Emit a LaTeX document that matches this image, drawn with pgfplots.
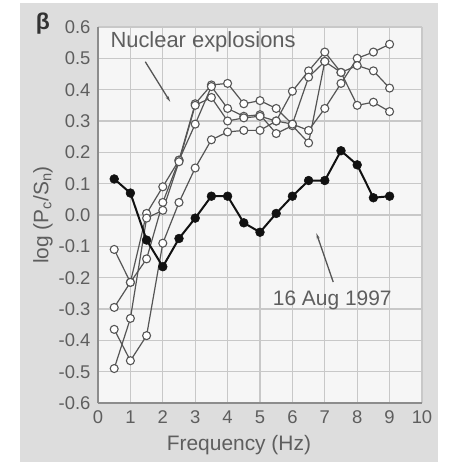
\documentclass[border=0pt]{standalone}
\usepackage{pgfplots}
\pgfplotsset{compat=1.18}
\usepackage{fontspec}
\setmainfont{Liberation Sans}
\usetikzlibrary{arrows.meta}
\definecolor{panel}{HTML}{DDDDDD}
\definecolor{plotbg}{HTML}{F6F6F6}
\definecolor{gridc}{HTML}{C8C8C8}
\definecolor{axisc}{HTML}{8C8C8C}
\definecolor{txt}{HTML}{5E5E5E}
\definecolor{linec}{HTML}{555555}
\definecolor{filledc}{HTML}{111111}
\begin{document}
\begin{tikzpicture}
\useasboundingbox (0,0) rectangle (459bp,462bp);
\fill[panel] (20bp,0) rectangle (438bp,459bp);
\begin{axis}[
  at={(98bp,59bp)}, anchor=south west,
  scale only axis, width=324bp, height=376bp,
  xmin=0, xmax=10, ymin=-0.6, ymax=0.6,
  xtick={0,1,2,3,4,5,6,7,8,9,10},
  xticklabels={0,1,2,3,4,5,6,7,8,9,10},
  ytick={-0.6,-0.5,-0.4,-0.3,-0.2,-0.1,0,0.1,0.2,0.3,0.4,0.5,0.6},
  yticklabels={-0.6,-0.5,-0.4,-0.3,-0.2,-0.1,0.0,0.1,0.2,0.3,0.4,0.5,0.6},
  axis lines=left,
  axis line style={-, draw=axisc, line width=2bp},
  major tick length=0pt,
  tick style={draw=none},
  grid=major,
  major grid style={draw=gridc, line width=1.1bp},
  axis background/.style={fill=plotbg},
  tick label style={font=\fontsize{18.5}{18.5}\selectfont, text=txt},
  yticklabel style={xshift=-4bp},
  xticklabel style={yshift=-4bp},
  xlabel={Frequency (Hz)},
  ylabel={log (P\textsubscript{c}/S\textsubscript{n})},
  every axis x label/.style={at={(axis description cs:0.435,-0.112)}, anchor=center, font=\fontsize{21}{21}\selectfont, text=txt},
  every axis y label/.style={at={(axis description cs:-0.17,0.5)}, anchor=center, rotate=90, font=\fontsize{21}{21}\selectfont, text=txt},
  clip=false,
  open/.style={draw=linec, line width=1.2bp, mark=*, mark size=4bp, mark options={fill=white, draw=linec, line width=1.1bp}},
]
\addplot[open] coordinates {(0.5,-0.11) (1.0,-0.215) (1.5,-0.14) (2.0,0.04) (2.5,0.175) (3.0,0.355) (3.5,0.415) (4.0,0.42) (4.5,0.355) (5.0,0.365) (5.5,0.34) (6.0,0.29) (6.5,0.27) (7.0,0.34) (7.5,0.42) (8.0,0.50) (8.5,0.52) (9.0,0.545)};
\addplot[open] coordinates {(0.5,-0.295) (1.0,-0.215) (1.5,0.005) (2.0,0.09) (2.5,0.175) (3.0,0.29) (3.5,0.41) (4.0,0.34) (4.5,0.315) (5.0,0.32) (5.5,0.26) (6.0,0.285) (6.5,0.23) (7.0,0.49) (7.5,0.455) (8.0,0.477) (8.5,0.46) (9.0,0.405)};
\addplot[open] coordinates {(0.5,-0.365) (1.0,-0.465) (1.5,-0.385) (2.0,-0.09) (2.5,0.04) (3.0,0.15) (3.5,0.24) (4.0,0.265) (4.5,0.27) (5.0,0.27) (5.5,0.30) (6.0,0.395) (6.5,0.46) (7.0,0.52) (7.5,0.455) (8.0,0.35) (8.5,0.36) (9.0,0.33)};
\addplot[open] coordinates {(0.5,-0.49) (1.0,-0.33) (1.5,-0.01) (2.0,0.015) (2.5,0.17) (3.0,0.35) (3.5,0.375) (4.0,0.30) (4.5,0.31) (5.0,0.315) (5.5,0.30) (6.0,0.29) (6.5,0.44) (7.0,0.49)};
\addplot[draw=filledc, line width=2bp, mark=*, mark size=4.4bp, mark options={fill=filledc, draw=filledc, line width=0.5bp}] coordinates {(0.5,0.115) (1.0,0.07) (1.5,-0.08) (2.0,-0.165) (2.5,-0.075) (3.0,-0.01) (3.5,0.06) (4.0,0.06) (4.5,-0.025) (5.0,-0.055) (5.5,0.005) (6.0,0.06) (6.5,0.11) (7.0,0.11) (7.5,0.205) (8.0,0.16) (8.5,0.055) (9.0,0.06)};
\node[anchor=west, font=\fontsize{22}{22}\selectfont, text=txt, inner sep=0pt] at (axis cs:0.38,0.553) {Nuclear explosions};
\draw[linec, line width=1.3bp, -{Stealth[length=6bp,width=3bp]}] (axis cs:1.46,0.489) -- (axis cs:2.23,0.361);
\node[anchor=center, font=\fontsize{21}{21}\selectfont, text=txt, inner sep=0pt] at (axis cs:7.23,-0.272) {16 Aug 1997};
\draw[linec, line width=1.3bp, -{Stealth[length=6bp,width=3bp]}] (axis cs:7.26,-0.214) -- (axis cs:6.74,-0.058);
\node[anchor=center, font=\bfseries\fontsize{23}{23}\selectfont, text=black!80, inner sep=0pt] at (axis description cs:-0.17,1.008) {β};
\end{axis}
\end{tikzpicture}
\end{document}
